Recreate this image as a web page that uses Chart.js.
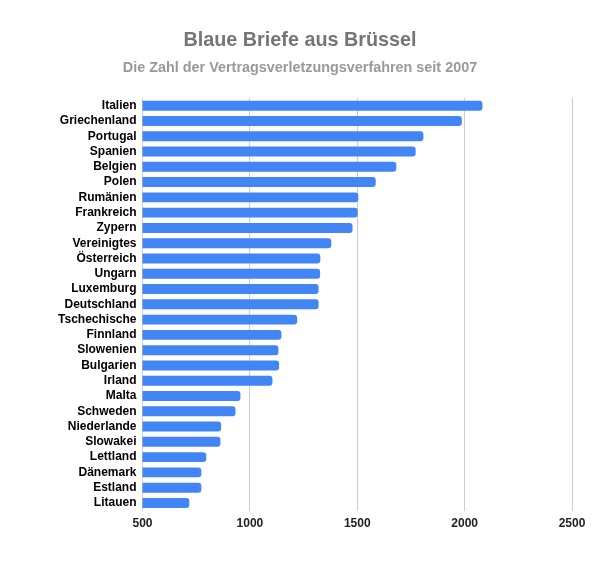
<!DOCTYPE html>
<html>
<head>
<meta charset="utf-8">
<script src="https://cdn.jsdelivr.net/npm/chart.js@4"></script>
<style>
html,body{margin:0;padding:0;background:#fff;}
#wrap{width:600px;height:561px;position:relative;}
</style>
</head>
<body>
<div id="wrap"><canvas id="c"></canvas></div>
<script>
const categories = ["Italien","Griechenland","Portugal","Spanien","Belgien","Polen","Rumänien","Frankreich","Zypern","Vereinigtes","Österreich","Ungarn","Luxemburg","Deutschland","Tschechische","Finnland","Slowenien","Bulgarien","Irland","Malta","Schweden","Niederlande","Slowakei","Lettland","Dänemark","Estland","Litauen"];
const values = [2083,1987,1808,1772,1682,1586,1505,1502,1478,1379,1328,1327,1320,1320,1220,1147,1133,1136,1105,956,933,866,863,797,774,774,718];
const xTicks = [500,1000,1500,2000,2500];
const titleText = "Blaue Briefe aus Brüssel";
const subtitleText = "Die Zahl der Vertragsverletzungsverfahren seit 2007";

Chart.defaults.font.family = "'Liberation Sans', Arial, sans-serif";
new Chart(document.getElementById('c'), {
  type: 'bar',
  data: {
    labels: categories,
    datasets: [{
      data: values,
      backgroundColor: '#4285F4',
      borderRadius: 3,
      borderSkipped: 'start',
      barPercentage: 0.65,
      categoryPercentage: 1.0
    }]
  },
  options: {
    indexAxis: 'y',
    responsive: true,
    maintainAspectRatio: false,
    animation: false,
    layout: { padding: { top: 0, right: 28, bottom: 24, left: 28 } },
    plugins: {
      legend: { display: false },
      tooltip: { enabled: false },
      title: {
        display: true, text: titleText, color: '#757575',
        font: { size: 19.8, weight: 'bold' },
        padding: { top: 29, bottom: 0 }
      },
      subtitle: {
        display: true, text: subtitleText, color: '#999999',
        font: { size: 14.4, weight: 'bold' },
        padding: { top: 7, bottom: 21 }
      }
    },
    scales: {
      x: {
        min: 500, max: 2500,
        afterBuildTicks: (s) => { s.ticks = xTicks.map(v => ({ value: v })); },
        grid: { color: '#cccccc', drawTicks: false, lineWidth: 1 },
        border: { display: false },
        ticks: { color: '#222', font: { size: 12, weight: 'bold' }, padding: 6, callback: (v) => String(v) }
      },
      y: {
        afterFit: (s) => { s.width = 114.5; },
        grid: { display: false, drawTicks: false },
        border: { display: false },
        ticks: { color: '#000', font: { size: 12, weight: 'bold' }, padding: 6, autoSkip: false }
      }
    }
  }
});
</script>
</body>
</html>
